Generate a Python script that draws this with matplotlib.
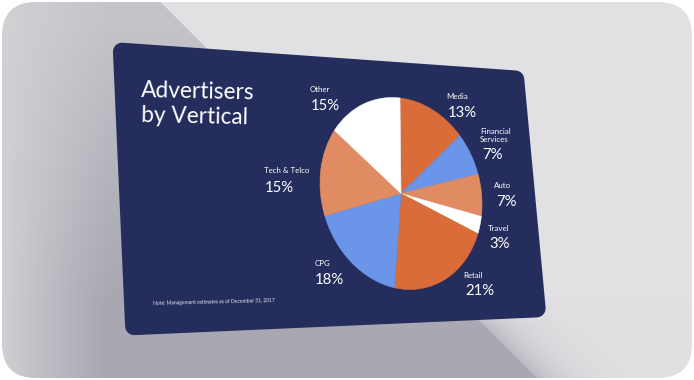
import numpy as np
import matplotlib
matplotlib.use("Agg")
import matplotlib.pyplot as plt
from matplotlib.patches import Polygon, FancyBboxPatch
from matplotlib.transforms import Affine2D

# ---- data -------------------------------------------------------------
categories = ["Media", "Financial\nServices", "Auto", "Travel",
              "Retail", "CPG", "Tech & Telco", "Other"]
shares = [13, 7, 7, 3, 21, 18, 15, 15]
slice_colors = ["#D96C38", "#6A95E8", "#E08B62", "#FFFFFF",
                "#D96C38", "#6A95E8", "#E08B62", "#FFFFFF"]
title_lines = ["Advertisers", "by Vertical"]
note = "Note: Management estimates as of December 31, 2017"

# ---- layout (pixel coordinates, y downwards) ---------------------------
W, H = 694, 380
card_corners = [(112.5, 42.0), (523.5, 71.0), (546.5, 317.0), (125.5, 335.5)]
card_radius = 9.0
# placement of the slanted pie: x' = a*u + c*v + e, y' = b*u + d*v + f
pie_affine = Affine2D.from_values(81.0, 9.5, -1.0, -95.5, 401.0, 193.5)
# baseline anchors for (first name line, percent) of each slice
label_anchor = [((446.7, 99.3), (448.0, 116.7)),
                ((480.0, 134.0), (482.0, 159.3)),
                ((494.0, 188.3), (496.0, 205.7)),
                ((487.7, 230.7), (489.0, 247.7)),
                ((463.0, 278.0), (465.0, 295.0)),
                ((314.3, 265.7), (315.0, 284.0)),
                ((264.0, 173.3), (265.0, 191.7)),
                ((310.0, 92.3), (311.0, 110.0))]

FONT = ["Lato", "DejaVu Sans"]
NAVY = "#242D5C"
DPI = 100

fig = plt.figure(figsize=(W / DPI, H / DPI), dpi=DPI, facecolor="white")
ax = fig.add_axes([0, 0, 1, 1])
ax.set_axis_off()

# ---- backdrop with the card's cast shadow ------------------------------
yy, xx = np.mgrid[0:H, 0:W].astype(float) + 0.5
light = np.array([225, 225, 227.0])
left_hi = np.array([211, 211, 214.0])
left_lo = np.array([168, 167, 178.0])
w = np.clip(xx / 110, 0, 1) ** 0.8 * (0.35 + 0.65 * np.clip((yy - 20) / 280, 0, 1))
left_col = left_hi + (left_lo - left_hi) * w[..., None]
diag = xx - (159 + yy)
fade = np.exp(-np.clip(diag, 0, None) / 30) * np.clip((yy - 300) / 25, 0, 1)
right_col = light + (np.array([186, 185, 194.0]) - light) * fade[..., None]
bg = np.where((diag < 0)[..., None], left_col, right_col) / 255.0

frame = FancyBboxPatch((2, 2), W - 4, H - 4,
                       boxstyle="round,pad=0,rounding_size=34",
                       fc="none", ec="none")
ax.add_patch(frame)
im = ax.imshow(bg, extent=(0, W, H, 0), interpolation="bilinear", zorder=0)
im.set_clip_path(frame)


# ---- the slide card -----------------------------------------------------
def inset(points, r):
    pts = np.asarray(points, float)
    n = len(pts)
    lines = []
    for i in range(n):
        p, q = pts[i], pts[(i + 1) % n]
        d = (q - p) / np.linalg.norm(q - p)
        nrm = np.array([-d[1], d[0]])
        lines.append((p + r * nrm, d))
    out = []
    for i in range(n):
        (p1, d1), (p2, d2) = lines[i - 1], lines[i]
        A = np.array([d1, -d2]).T
        t, _ = np.linalg.solve(A, p2 - p1)
        out.append(p1 + t * d1)
    return np.array(out)


card = Polygon(inset(card_corners, card_radius), closed=True, fc=NAVY, ec=NAVY,
               lw=2 * card_radius * 72 / DPI, joinstyle="round", zorder=2)
ax.add_patch(card)

# ---- pie ----------------------------------------------------------------
wedges, _ = ax.pie(shares, colors=slice_colors, startangle=90,
                   counterclock=False,
                   wedgeprops=dict(linewidth=0.4, zorder=5, antialiased=True))
for wdg, col in zip(wedges, slice_colors):
    wdg.set_edgecolor(col)
    wdg.set_transform(pie_affine + ax.transData)

ax.set_aspect("auto")
ax.set_xlim(0, W)
ax.set_ylim(H, 0)

# ---- labels -------------------------------------------------------------
for name, val, ((nx, ny), (px, py)) in zip(categories, shares, label_anchor):
    for i, ln in enumerate(name.split("\n")):
        ax.text(nx, ny + i * 8.3, ln, family=FONT,
                fontsize=5.7, color="white", ha="left", va="baseline", zorder=6)
    ax.text(px, py, f"{val}%", family=FONT, fontsize=10.7, color="white",
            ha="left", va="baseline", zorder=6)

for i, ln in enumerate(title_lines):
    ax.text(140.7, 96.7 + 25 * i, ln, family=FONT, fontsize=16.3, color="white",
            ha="left", va="baseline", rotation=-1.2, rotation_mode="anchor",
            zorder=6)

ax.text(153, 305, note, family=FONT, fontsize=3.6, color="#E6E8F0",
        ha="left", va="baseline", rotation=1.4, rotation_mode="anchor", zorder=6)

fig.savefig("out.png", dpi=DPI, facecolor="white")
